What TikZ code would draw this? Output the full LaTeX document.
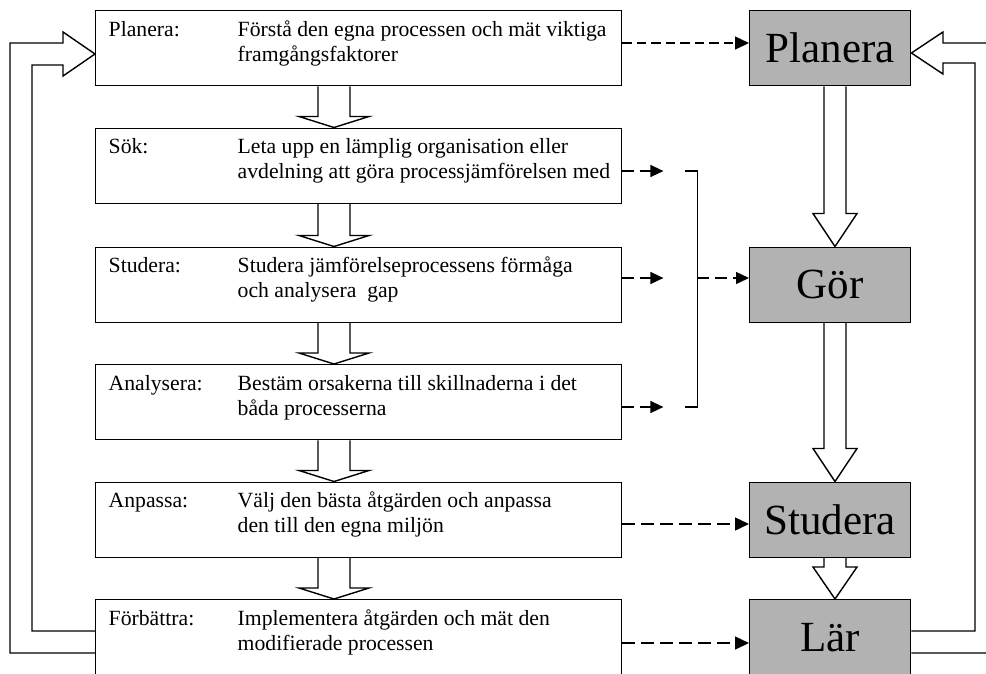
\documentclass[tikz,border=0pt]{standalone}
\usepackage{fontspec}
\setmainfont{Liberation Serif}
\usetikzlibrary{calc,arrows.meta}
\definecolor{boxgray}{RGB}{178,178,178}

% hollow block arrow pointing down from one node to the next
% #1 from, #2 to, #3 centre x, #4 shaft half-width, #5 head half-width, #6 head length
\newcommand\flowdown[6]{%
  \draw[blockarrow] let \p1=(#1.south), \p2=(#2.north) in
    (#3pt-#4pt,\y1) -- (#3pt-#4pt,\y2+#6pt) -- (#3pt-#5pt,\y2+#6pt) -- (#3pt,\y2)
    -- (#3pt+#5pt,\y2+#6pt) -- (#3pt+#4pt,\y2+#6pt) -- (#3pt+#4pt,\y1);
}

\begin{document}
\begin{tikzpicture}[x=1pt,y=-1pt,
  line width=1.4pt,
  stepbox/.style={draw, minimum width=526pt, minimum height=75pt, inner sep=0pt, anchor=north west},
  phasebox/.style={draw, fill=boxgray, minimum width=161pt, minimum height=75pt, inner sep=0pt,
    anchor=north west, font=\fontsize{43}{43}\selectfont},
  steplabel/.style={anchor=base west, inner sep=0pt, font=\fontsize{21.7}{25}\selectfont},
  steptext/.style={anchor=base west, inner sep=0pt, align=left, font=\fontsize{21.7}{25}\selectfont},
  blockarrow/.style={draw, line join=miter},
  longdash/.style={dash pattern=on 12.5pt off 6.5pt, -{Triangle[length=14pt,width=13pt]}},
  shortdash/.style={dash pattern=on 9.5pt off 5pt, -{Triangle[length=14pt,width=13pt]}},
  linkdash/.style={dash pattern=on 12pt off 6pt, -{Triangle[length=13pt,width=12pt]}},
]
\useasboundingbox (0,0) rectangle (986,673);
\fill[white] (0,0) rectangle (986,673);
\clip (0,0) rectangle (986,673);

% process steps
\node[stepbox] (p1) at (95,10) {};
\node[stepbox] (p2) at (95,127.5) {};
\node[stepbox] (p3) at (95,246.5) {};
\node[stepbox] (p4) at (95,364) {};
\node[stepbox] (p5) at (95,481.5) {};
\node[stepbox] (p6) at (95,599) {};

% step names on the first line, descriptions anchored on their last line
\node[steplabel] (l1) at ($(p1.north west)+(13,26)$) {Planera:};
\node[steptext]  (t1) at ($(p1.north west)+(142,51)$) {Förstå den egna processen och mät viktiga\\framgångsfaktorer};
\node[steplabel] (l2) at ($(p2.north west)+(13,26)$) {Sök:};
\node[steptext]  (t2) at ($(p2.north west)+(142,51)$) {Leta upp en lämplig organisation eller\\avdelning att göra processjämförelsen med};
\node[steplabel] (l3) at ($(p3.north west)+(13,26)$) {Studera:};
\node[steptext]  (t3) at ($(p3.north west)+(142,51)$) {Studera jämförelseprocessens förmåga\\och analysera\ \ gap};
\node[steplabel] (l4) at ($(p4.north west)+(13,26)$) {Analysera:};
\node[steptext]  (t4) at ($(p4.north west)+(142,51)$) {Bestäm orsakerna till skillnaderna i det\\båda processerna};
\node[steplabel] (l5) at ($(p5.north west)+(13,26)$) {Anpassa:};
\node[steptext]  (t5) at ($(p5.north west)+(142,51)$) {Välj den bästa åtgärden och anpassa\\den till den egna miljön};
\node[steplabel] (l6) at ($(p6.north west)+(13,26)$) {Förbättra:};
\node[steptext]  (t6) at ($(p6.north west)+(142,51)$) {Implementera åtgärden och mät den\\modifierade processen};

% cycle phases
\node[phasebox] (r1) at (749,10) {Planera};
\node[phasebox] (r2) at (749,246.5) {Gör};
\node[phasebox] (r3) at (749,481.5) {Studera};
\node[phasebox] (r4) at (749,599) {Lär};

% flow between the steps
\flowdown{p1}{p2}{334}{16}{35}{11}
\flowdown{p2}{p3}{334}{16}{35}{11}
\flowdown{p3}{p4}{334}{16}{35}{11}
\flowdown{p4}{p5}{334}{16}{35}{11}
\flowdown{p5}{p6}{334}{16}{35}{11}

% flow between the phases
\flowdown{r1}{r2}{835}{11}{22}{33}
\flowdown{r2}{r3}{835}{11}{22}{33}
\flowdown{r3}{r4}{835}{11}{22}{32}

% steps mapped onto phases
\draw[shortdash] ($(p1.north east)+(0,33)$) coordinate (d1) -- (d1 -| r1.west);
\draw[longdash] ($(p5.north east)+(0,42.5)$) coordinate (d5) -- (d5 -| r3.west);
\draw[longdash] ($(p6.north east)+(0,44)$) coordinate (d6) -- (d6 -| r4.west);

\draw[linkdash] ($(p2.north east)+(0,43.5)$) coordinate (d2) -- ++(41,0);
\draw[linkdash] ($(p3.north east)+(0,31.5)$) coordinate (d3) -- ++(41,0);
\draw[linkdash] ($(p4.north east)+(0,43)$) coordinate (d4) -- ++(41,0);

% bracket gathering the three middle steps
\coordinate (bt) at ($(d2)+(63,0)$);
\coordinate (bb) at ($(d4)+(63,0)$);
\draw (bt) -| ($(bt)+(12,0)$) coordinate (btr) -- (btr |- bb) coordinate (bbr) -- (bb);
\draw[linkdash] (btr |- d3) coordinate (bm) -- (bm -| r2.west);

% feedback loop on the left, back into the first step
\draw[blockarrow] ($(p6.north west)+(0,54)$) -| (10,43) -- (63,43) -- (63,32)
  -- ($(p1.north west)+(0,44)$) -- (63,76) -- (63,65) -| (32,631)
  -- ($(p6.north west)+(0,32)$);

% feedback loop on the right, back into the first phase
\draw[blockarrow] ($(r4.north east)+(0,32)$) -| (975,63) -- (943,63) -- (943,74)
  -- ($(r1.north east)+(0,43)$) -- (943,32) -- (943,43) -- (1000,43)
  |- ($(r4.north east)+(0,54)$);
\end{tikzpicture}
\end{document}
